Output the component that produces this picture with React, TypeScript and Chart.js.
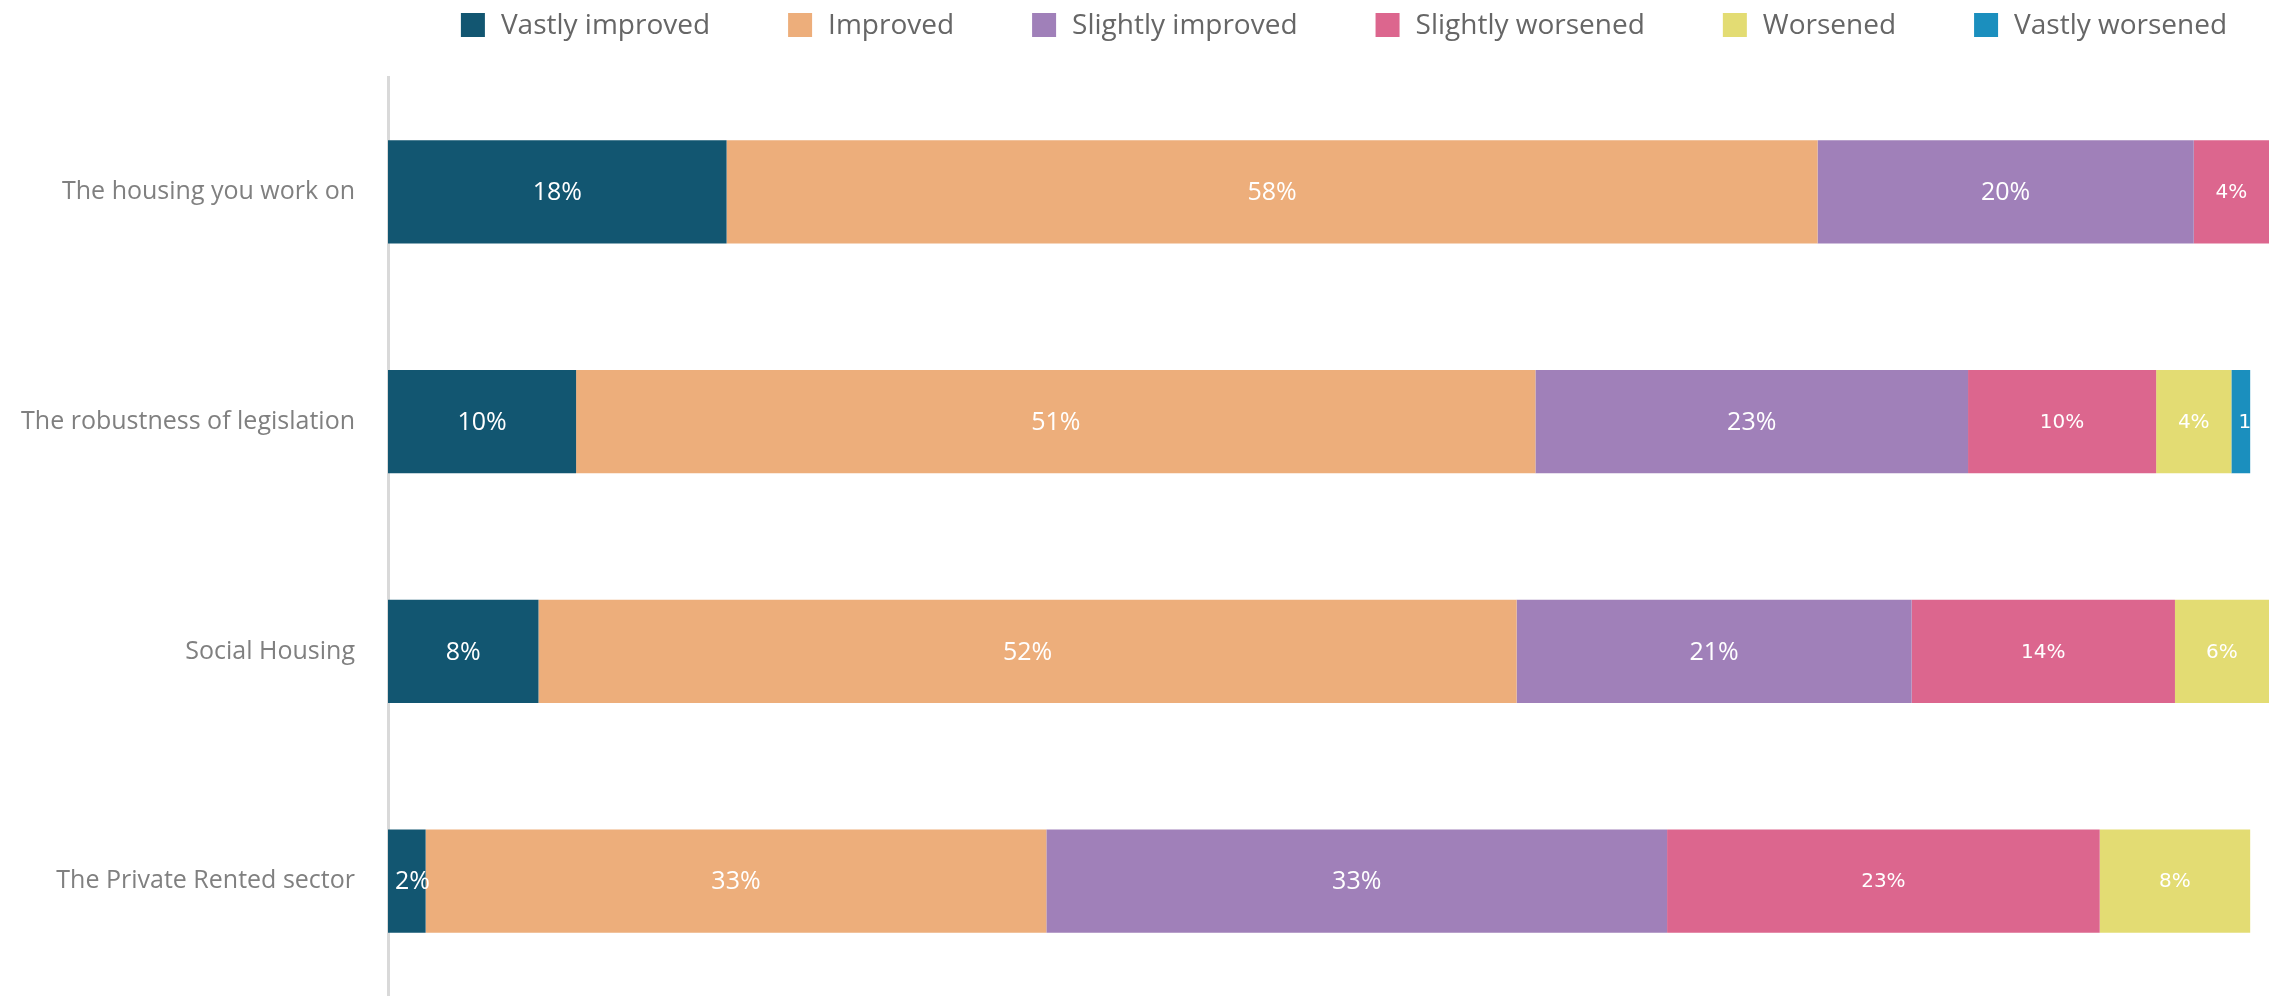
import { useEffect, useRef } from "react";
import { Chart, registerables } from "chart.js";

Chart.register(...registerables);

const categories = [
  "The housing you work on",
  "The robustness of legislation",
  "Social Housing",
  "The Private Rented sector",
];
const seriesNames = [
  "Vastly improved",
  "Improved",
  "Slightly improved",
  "Slightly worsened",
  "Worsened",
  "Vastly worsened",
];
const vastlyImproved = [18, 10, 8, 2];
const improved = [58, 51, 52, 33];
const slightlyImproved = [20, 23, 21, 33];
const slightlyWorsened = [4, 10, 14, 23];
const worsened = [0, 4, 6, 8];
const vastlyWorsened = [0, 1, 0, 0];

const seriesValues = [vastlyImproved, improved, slightlyImproved, slightlyWorsened, worsened, vastlyWorsened];
const seriesColors = ["#125671", "#edae7b", "#a080b9", "#dc668e", "#e3dc73", "#1b8fbe"];
const labelFonts = [
  "25px 'Open Sans'",
  "25px 'Open Sans'",
  "25px 'Open Sans'",
  "20px 'DejaVu Sans'",
  "20px 'DejaVu Sans'",
  "20px 'DejaVu Sans'",
];

const W = 2274;
const H = 996;

const valueLabelPlugin = {
  id: "valueLabels",
  afterDatasetsDraw(chart: any) {
    const { ctx, chartArea } = chart;
    const datasets = chart.data.datasets;
    datasets.forEach((ds: any, di: number) => {
      const meta = chart.getDatasetMeta(di);
      meta.data.forEach((bar: any, i: number) => {
        const v = ds.data[i];
        if (!v) return;
        const p = bar.getProps(["x", "base", "y", "height"], true);
        const left = Math.max(Math.min(p.x, p.base), chartArea.left);
        const right = Math.min(Math.max(p.x, p.base), chartArea.right);
        const text = v + "%";
        ctx.save();
        ctx.font = labelFonts[di];
        ctx.fillStyle = "#ffffff";
        ctx.textBaseline = "middle";
        const w = ctx.measureText(text).width;
        let tx: number;
        if (w + 8 > right - left) {
          ctx.textAlign = "left";
          tx = left + 7;
        } else {
          ctx.textAlign = "center";
          tx = (left + right) / 2;
        }
        let isLast = true;
        for (let k = di + 1; k < datasets.length; k++) {
          if (datasets[k].data[i]) isLast = false;
        }
        if (isLast) {
          ctx.beginPath();
          ctx.rect(left, p.y - p.height / 2, right - left, p.height);
          ctx.clip();
        }
        ctx.fillText(text, tx, p.y + 1);
        ctx.restore();
      });
    });
  },
};

const legendPlugin = {
  id: "customLegend",
  afterDraw(chart: any) {
    const { ctx } = chart;
    const datasets = chart.data.datasets;
    const box = 24;
    const gap = 16;
    const spacing = 78;
    const centerX = 1344;
    const centerY = 25;
    ctx.save();
    ctx.font = "28px 'Open Sans'";
    ctx.textBaseline = "middle";
    ctx.textAlign = "left";
    const widths = datasets.map((ds: any) => ctx.measureText(ds.label).width);
    const total =
      widths.reduce((a: number, w: number) => a + box + gap + w, 0) + spacing * (datasets.length - 1);
    let x = centerX - total / 2;
    datasets.forEach((ds: any, i: number) => {
      ctx.fillStyle = ds.backgroundColor;
      ctx.fillRect(x, centerY - box / 2, box, box);
      ctx.fillStyle = "#666666";
      ctx.fillText(ds.label, x + box + gap, centerY + 1);
      x += box + gap + widths[i] + spacing;
    });
    ctx.restore();
  },
};

export default function App() {
  const canvasRef = useRef<HTMLCanvasElement | null>(null);

  useEffect(() => {
    if (!canvasRef.current) return;
    const chart = new Chart(canvasRef.current, {
      type: "bar",
      data: {
        labels: categories,
        datasets: seriesNames.map((name, i) => ({
          label: name,
          data: seriesValues[i],
          backgroundColor: seriesColors[i],
          borderWidth: 0,
          barPercentage: 0.45,
          categoryPercentage: 1,
        })),
      },
      options: {
        indexAxis: "y",
        animation: false,
        responsive: false,
        maintainAspectRatio: false,
        devicePixelRatio: 1,
        layout: { padding: { top: 77, right: 5, bottom: 0, left: 0 } },
        plugins: {
          legend: { display: false },
          tooltip: { enabled: false },
        },
        scales: {
          x: {
            stacked: true,
            min: 0,
            max: 100,
            display: false,
          },
          y: {
            stacked: true,
            grid: { display: false, drawTicks: false },
            border: { display: true, color: "#d9d9d9", width: 3 },
            ticks: {
              color: "#808080",
              font: { family: "'Open Sans'", size: 25 },
              padding: 33,
            },
            afterFit(scale: any) {
              scale.width = 388;
              scale.paddingTop = 0;
              scale.paddingBottom = 0;
            },
          },
        },
      },
      plugins: [valueLabelPlugin, legendPlugin],
    });
    return () => chart.destroy();
  }, []);

  return (
    <div style={{ position: "absolute", left: 0, top: 0, width: W, height: H }}>
      <canvas ref={canvasRef} width={W} height={H} style={{ display: "block", width: W, height: H }} />
    </div>
  );
}
